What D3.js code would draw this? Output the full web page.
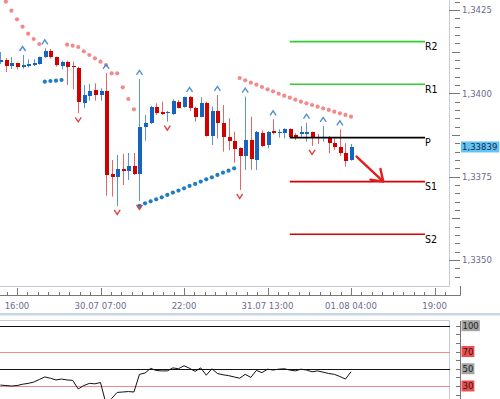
<!DOCTYPE html>
<html>
<head>
<meta charset="utf-8">
<script src="https://cdn.jsdelivr.net/npm/d3@7"></script>
<style>
  body { margin: 0; background: #fff; }
  svg { display: block; font-family: "DejaVu Sans Condensed", "Liberation Sans", sans-serif; }
</style>
</head>
<body>
<svg id="chart" width="500" height="399"></svg>
<script>
// EURUSD H1, 29.07 13:00 .. 01.08 04:00 (one bar per hour)
const opens = [
  1.34094, 1.34100, 1.34082, 1.34090, 1.34078, 1.34082, 1.34084, 1.34088, 1.34108, 1.34128,
  1.34108, 1.34082, 1.34095, 1.34082, 1.34077, 1.33972, 1.33992, 1.34010, 1.33995, 1.34007,
  1.33757, 1.33750, 1.33772, 1.33768, 1.33782, 1.33758, 1.33900, 1.33912, 1.33960, 1.33945,
  1.33943, 1.33937, 1.33975, 1.33958, 1.33988, 1.33955, 1.33930, 1.33972, 1.33872, 1.33948,
  1.33910, 1.33868, 1.33858, 1.33835, 1.33812, 1.33860, 1.33800, 1.33882, 1.33845, 1.33887,
  1.33880, 1.33880, 1.33892, 1.33874, 1.33877, 1.33877, 1.33884, 1.33870, 1.33866, 1.33870,
  1.33852, 1.33838, 1.33822, 1.33800
];
const highs = [
  1.34124, 1.34106, 1.34109, 1.34092, 1.34115, 1.34102, 1.34102, 1.34110, 1.34135, 1.34133,
  1.34110, 1.34098, 1.34098, 1.34095, 1.34080, 1.34025, 1.34028, 1.34030, 1.34015, 1.34061,
  1.33800, 1.33815, 1.33818, 1.33821, 1.33821, 1.34043, 1.33935, 1.33962, 1.33970, 1.33975,
  1.33947, 1.33982, 1.33980, 1.33990, 1.33992, 1.33960, 1.33988, 1.33975, 1.33960, 1.33995,
  1.33965, 1.33925, 1.33885, 1.33838, 1.33990, 1.33930, 1.33887, 1.33888, 1.33887, 1.33922,
  1.33892, 1.33895, 1.33895, 1.33880, 1.33902, 1.33912, 1.33885, 1.33878, 1.33902, 1.33872,
  1.33865, 1.33892, 1.33850, 1.33848
];
const lows = [
  1.34088, 1.34064, 1.34073, 1.34072, 1.34074, 1.34078, 1.34082, 1.34086, 1.34106, 1.34104,
  1.34080, 1.34072, 1.34025, 1.34012, 1.33940, 1.33955, 1.33978, 1.33978, 1.33978, 1.33693,
  1.33690, 1.33662, 1.33725, 1.33740, 1.33755, 1.33677, 1.33858, 1.33908, 1.33935, 1.33935,
  1.33915, 1.33935, 1.33955, 1.33957, 1.33947, 1.33915, 1.33928, 1.33870, 1.33845, 1.33865,
  1.33825, 1.33830, 1.33792, 1.33710, 1.33770, 1.33770, 1.33770, 1.33839, 1.33835, 1.33877,
  1.33867, 1.33865, 1.33866, 1.33860, 1.33870, 1.33855, 1.33842, 1.33848, 1.33855, 1.33820,
  1.33830, 1.33812, 1.33780, 1.33798
];
const closes = [
  1.34100, 1.34082, 1.34090, 1.34078, 1.34084, 1.34087, 1.34090, 1.34108, 1.34128, 1.34108,
  1.34085, 1.34095, 1.34080, 1.34078, 1.33975, 1.33995, 1.34008, 1.33995, 1.34007, 1.33755,
  1.33750, 1.33772, 1.33768, 1.33782, 1.33758, 1.33900, 1.33912, 1.33960, 1.33940, 1.33937,
  1.33945, 1.33978, 1.33957, 1.33988, 1.33955, 1.33930, 1.33972, 1.33872, 1.33947, 1.33910,
  1.33868, 1.33858, 1.33832, 1.33812, 1.33860, 1.33802, 1.33885, 1.33842, 1.33885, 1.33880,
  1.33885, 1.33892, 1.33870, 1.33870, 1.33884, 1.33885, 1.33865, 1.33865, 1.33870, 1.33850,
  1.33838, 1.33820, 1.33798, 1.33839
];
// parabolic SAR
const sar = [
  1.34301, 1.34275, 1.34248, 1.34222, 1.34200, 1.34179, 1.34163, 1.34148, 1.34035, 1.34037,
  1.34038, 1.34040, 1.34146, 1.34143, 1.34139, 1.34126, 1.34115, 1.34105, 1.34095, 1.34085,
  1.34060, 1.34060, 1.34018, 1.33983, 1.33952, 1.33662, 1.33670, 1.33676, 1.33682, 1.33688,
  1.33695, 1.33702, 1.33708, 1.33715, 1.33722, 1.33728, 1.33735, 1.33742, 1.33748, 1.33755,
  1.33762, 1.33768, 1.33775, 1.34046, 1.34039, 1.34032, 1.34026, 1.34019, 1.34012, 1.34006,
  1.33999, 1.33993, 1.33987, 1.33981, 1.33975, 1.33970, 1.33965, 1.33960, 1.33955, 1.33950,
  1.33945, 1.33940, 1.33935, 1.33930
];
// RSI
const rsi = [
  31, 30.5, 30, 30.5, 32, 33, 34.5, 37.5, 40.5, 39,
  37, 38, 37, 36.5, 26.5, 30.5, 33, 32.5, 34, 9,
  15.5, 22.5, 23, 23.5, 23, 43.5, 45, 50.5, 48, 47.5,
  47.5, 51, 50, 53.5, 50.5, 47, 51, 42.5, 50, 44.5,
  43, 42, 40.5, 39, 43.5, 40, 48, 45.5, 49.5, 48.5,
  49.5, 50, 48.5, 47.5, 49.5, 48.5, 46.5, 47.5, 46, 44.5,
  43.5, 41, 38, 46.5
];
const fractalUp = [4, 8, 19, 25, 34, 39, 44, 49, 55, 58, 61];
const fractalDown = [14, 21, 25, 30, 43, 56];

const pivotNames = ["R2", "R1", "P", "S1", "S2"];
const pivotValues = [1.34155, 1.34027, 1.33867, 1.33735, 1.33577];
const pivotFrom = 52, pivotTo = 76.3;

const timeLabels = ["16:00", "30.07 07:00", "22:00", "31.07 13:00", "01.08 04:00", "19:00"];
const timeLabelBars = [3, 18, 33, 48, 63, 78];
const priceTicks = [1.3350, 1.3375, 1.3400, 1.3425];
const lastPrice = 1.33839;
const rsiLevels = [100, 70, 50, 30];

// forecast arrow: [bar, price]
const arrowFrom = [64, 1.33810];
const arrowTo = [68.8, 1.33735];

// ---------- layout ----------
const svg = d3.select("#chart");
const plotRight = 449.5, plotBottom = 286;
const axisX = 460;
const barStep = 5.567;
const axisColor = "#6b6b8e";
const frameColor = "#c6ccd6";

const x = d3.scaleLinear().domain([0, 80]).range([0.3, 0.3 + 80 * barStep]);
const y = d3.scaleLinear().domain([1.3342, 1.3428]).range([286.6, 0]);
const yr = d3.scaleLinear().domain([0, 100]).range([411.8, 325.7]);
const fmt = (v, n) => v.toFixed(n).replace(".", ",");

svg.append("defs").append("clipPath").attr("id", "mainClip")
  .append("rect").attr("width", plotRight).attr("height", plotBottom);

// frames
svg.append("path")
  .attr("d", `M0,${plotBottom + 0.5}H${plotRight}V0`)
  .attr("fill", "none").attr("stroke", frameColor);

const main = svg.append("g").attr("clip-path", "url(#mainClip)");

// candles
let candles = opens.map((o, i) => ({ i, o, h: highs[i], l: lows[i], c: closes[i], up: closes[i] >= o }));

main.append("g")
  .selectAll("line")
  .data(candles)
  .join("line")
  .attr("x1", (d) => Math.round(x(d.i)) + 0.5)
  .attr("x2", (d) => Math.round(x(d.i)) + 0.5)
  .attr("y1", (d) => y(d.h))
  .attr("y2", (d) => y(d.l))
  .attr("stroke", (d) => (d.up ? "#5b93d3" : "#e06868"));

main.append("g")
  .attr("shape-rendering", "crispEdges")
  .selectAll("rect")
  .data(candles)
  .join("rect")
  .attr("x", (d) => Math.round(x(d.i)) - 1)
  .attr("width", 4)
  .attr("y", (d) => y(Math.max(d.o, d.c)))
  .attr("height", (d) => Math.max(1, Math.abs(y(d.o) - y(d.c))))
  .attr("fill", (d) => (d.up ? "#1565c0" : "#d10000"));

// pivot lines
let pivots = pivotNames.map((n, k) => ({ name: n, value: pivotValues[k] }));
let pivotColor = (n) => (n[0] === "R" ? "#2fcf2f" : n === "P" ? "#000" : "#d80000");

main.append("g")
  .selectAll("line")
  .data(pivots)
  .join("line")
  .attr("x1", x(pivotFrom))
  .attr("x2", x(pivotTo))
  .attr("y1", (d) => y(d.value))
  .attr("y2", (d) => y(d.value))
  .attr("stroke", (d) => pivotColor(d.name))
  .attr("stroke-width", 1.6);

main.append("g")
  .selectAll("text")
  .data(pivots)
  .join("text")
  .attr("x", x(pivotTo))
  .attr("y", (d) => y(d.value) + 8.5)
  .attr("font-size", 10.5)
  .attr("fill", "#000")
  .text((d) => d.name);

// SAR dots
main.append("g")
  .selectAll("circle")
  .data(sar.map((v, i) => ({ i, v, above: v > highs[i] })))
  .join("circle")
  .attr("cx", (d) => x(d.i))
  .attr("cy", (d) => y(d.v))
  .attr("r", 2.1)
  .attr("fill", (d) => (d.above ? "#f28a8a" : "#1f7dc4"));

// fractals
main.append("g")
  .selectAll("path")
  .data(fractalUp)
  .join("path")
  .attr("d", (i) => {
    let cx = x(i), cy = y(highs[i]) - 6;
    return `M${cx - 3},${cy + 2}L${cx},${cy - 2.5}L${cx + 3},${cy + 2}`;
  })
  .attr("fill", "none").attr("stroke", "#4f8fd6").attr("stroke-width", 1.4);

main.append("g")
  .selectAll("path")
  .data(fractalDown)
  .join("path")
  .attr("d", (i) => {
    let cx = x(i), cy = y(lows[i]) + 6;
    return `M${cx - 3},${cy - 2}L${cx},${cy + 2.5}L${cx + 3},${cy - 2}`;
  })
  .attr("fill", "none").attr("stroke", "#e0443f").attr("stroke-width", 1.4);

// forecast arrow
{
  let x0 = x(arrowFrom[0]), y0 = y(arrowFrom[1]);
  let x1 = x(arrowTo[0]), y1 = y(arrowTo[1]);
  let ang = Math.atan2(y0 - y1, x0 - x1);
  let len = 13, spread = 0.6;
  let b1 = [x1 + len * Math.cos(ang + spread), y1 + len * Math.sin(ang + spread)];
  let b2 = [x1 + len * Math.cos(ang - spread), y1 + len * Math.sin(ang - spread)];
  main.append("path")
    .attr("d", `M${x0},${y0}L${x1},${y1}M${b1[0]},${b1[1]}L${x1},${y1}L${b2[0]},${b2[1]}`)
    .attr("fill", "none")
    .attr("stroke", "#e41e1e")
    .attr("stroke-width", 2.4)
    .attr("stroke-linecap", "round")
    .attr("stroke-linejoin", "round");
}

// price axis
let minorTicks = d3.range(1.3345, 1.34276, 0.00025);
svg.append("g")
  .attr("shape-rendering", "crispEdges")
  .selectAll("line")
  .data(minorTicks.filter((v) => y(v) >= 0 && y(v) <= plotBottom))
  .join("line")
  .attr("x1", (v) => {
    let k = Math.round(v / 0.00025);
    return axisX - (k % 10 === 0 ? 11 : k % 5 === 0 ? 8 : 5);
  })
  .attr("x2", axisX)
  .attr("y1", (v) => Math.round(y(v)) + 0.5)
  .attr("y2", (v) => Math.round(y(v)) + 0.5)
  .attr("stroke", "#777");

svg.append("g")
  .selectAll("text")
  .data(priceTicks)
  .join("text")
  .attr("x", axisX + 2)
  .attr("y", (v) => y(v))
  .attr("dy", "0.35em")
  .attr("font-size", 9.5)
  .attr("fill", axisColor)
  .text((v) => fmt(v, 4));

// last price tag
{
  let ty = y(lastPrice);
  let t = svg.append("text")
    .attr("x", axisX + 2)
    .attr("y", ty)
    .attr("dy", "0.35em")
    .attr("font-size", 9.5)
    .attr("fill", "#1a2a50")
    .text(fmt(lastPrice, 5));
  let w = t.node().getComputedTextLength();
  svg.insert("rect", () => t.node())
    .attr("x", axisX + 1)
    .attr("y", ty - 5.5)
    .attr("width", w + 3)
    .attr("height", 11)
    .attr("fill", "#62c4f2");
}

// time axis
const timeAxisY = 295.5;
svg.append("line")
  .attr("x1", 0).attr("x2", axisX + 0.5)
  .attr("y1", timeAxisY).attr("y2", timeAxisY)
  .attr("stroke", "#777");
svg.append("line")
  .attr("x1", axisX + 0.5).attr("x2", axisX + 0.5)
  .attr("y1", plotBottom).attr("y2", timeAxisY)
  .attr("stroke", "#777");

svg.append("g")
  .attr("shape-rendering", "crispEdges")
  .selectAll("line")
  .data(d3.range(-0.75, 81, 15 / 8).filter((b) => x(b) >= 0 && x(b) <= axisX))
  .join("line")
  .attr("x1", (b) => Math.round(x(b)) + 0.5)
  .attr("x2", (b) => Math.round(x(b)) + 0.5)
  .attr("y1", (b) => timeAxisY - (timeLabelBars.some((t) => Math.abs(t - b) < 0.01) ? 8 : 4))
  .attr("y2", timeAxisY)
  .attr("stroke", "#777");

svg.append("g")
  .selectAll("text")
  .data(timeLabels)
  .join("text")
  .attr("x", (d, k) => x(timeLabelBars[k]))
  .attr("y", 309)
  .attr("text-anchor", "middle")
  .attr("font-size", 9.5)
  .attr("fill", axisColor)
  .text((d) => d);

// sub-window separator
svg.append("rect")
  .attr("x", 0).attr("y", 313)
  .attr("width", 500).attr("height", 2.5)
  .attr("fill", "#c9d5e2");

// ---------- RSI panel ----------
svg.append("path")
  .attr("d", `M0,320.5H${plotRight}V399`)
  .attr("fill", "none").attr("stroke", frameColor);

svg.append("g")
  .attr("shape-rendering", "crispEdges")
  .selectAll("line")
  .data(rsiLevels)
  .join("line")
  .attr("x1", 0).attr("x2", plotRight)
  .attr("y1", (v) => Math.round(yr(v)) + 0.5)
  .attr("y2", (v) => Math.round(yr(v)) + 0.5)
  .attr("stroke", (v) => (v === 70 || v === 30 ? "#f08a8a" : "#111"));

svg.append("path")
  .datum(rsi)
  .attr("d", d3.line().x((v, i) => x(i)).y((v) => yr(v)))
  .attr("fill", "none")
  .attr("stroke", "#111")
  .attr("stroke-width", 1);

svg.append("line")
  .attr("x1", axisX + 0.5).attr("x2", axisX + 0.5)
  .attr("y1", 321).attr("y2", 399)
  .attr("stroke", "#777");

svg.append("g")
  .attr("shape-rendering", "crispEdges")
  .selectAll("line")
  .data(d3.range(0, 101, 10).filter((v) => yr(v) > 321 && yr(v) < 399))
  .join("line")
  .attr("x1", axisX - 4).attr("x2", axisX)
  .attr("y1", (v) => Math.round(yr(v)) + 0.5)
  .attr("y2", (v) => Math.round(yr(v)) + 0.5)
  .attr("stroke", "#777");

let rsiTags = svg.append("g")
  .selectAll("g")
  .data(rsiLevels)
  .join("g");

rsiTags.append("text")
  .attr("x", axisX + 2.5)
  .attr("y", (v) => yr(v))
  .attr("dy", "0.35em")
  .attr("font-size", 9.5)
  .attr("fill", "#222")
  .text((v) => v)
  .each(function (v) {
    let w = this.getComputedTextLength();
    d3.select(this.parentNode).insert("rect", "text")
      .attr("x", axisX + 1.5)
      .attr("y", yr(v) - 5.5)
      .attr("width", w + 2)
      .attr("height", 11)
      .attr("fill", v === 70 || v === 30 ? "#ef4b4b" : "#a3a3a3");
  });
</script>
</body>
</html>
